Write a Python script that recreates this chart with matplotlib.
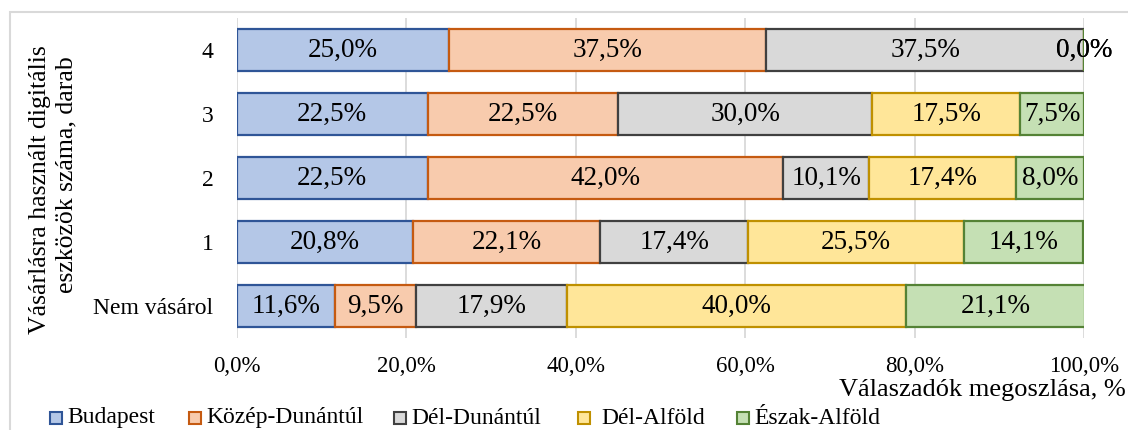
import numpy as np
import matplotlib.pyplot as plt
from matplotlib.patches import Rectangle

plt.rcParams['font.family'] = ['Liberation Serif', 'DejaVu Serif']

# rows from bottom to top
categories = ["Nem vásárol", "1", "2", "3", "4"]
regions = ["Budapest", "Közép-Dunántúl", "Dél-Dunántúl", "Dél-Alföld", "Észak-Alföld"]

budapest = [11.6, 20.8, 22.5, 22.5, 25.0]
kozep_dunantul = [9.5, 22.1, 42.0, 22.5, 37.5]
del_dunantul = [17.9, 17.4, 10.1, 30.0, 37.5]
del_alfold = [40.0, 25.5, 17.4, 17.5, 0.0]
eszak_alfold = [21.1, 14.1, 8.0, 7.5, 0.0]

x_ticks = [0, 20, 40, 60, 80, 100]

series = [budapest, kozep_dunantul, del_dunantul, del_alfold, eszak_alfold]
fills = ["#B4C7E7", "#F8CBAD", "#D9D9D9", "#FFE699", "#C5E0B4"]
edges = ["#2F5597", "#C55A11", "#404040", "#BF9000", "#548235"]

fig = plt.figure(figsize=(11.28, 4.30), dpi=100)
ax = fig.add_axes([237 / 1128, 1 - 338 / 430, (1084 - 237) / 1128, 320 / 430])

y = np.arange(len(categories))
left = np.zeros(len(categories))
for vals, fc, ec in zip(series, fills, edges):
    vals = np.array(vals)
    ax.barh(y, vals, left=left, height=0.66, color=fc, edgecolor=ec,
            linewidth=1.6, zorder=3)
    for yi, l, v in zip(y, left, vals):
        ax.text(l + v / 2, yi, f"{v:.1f}%".replace(".", ","), ha="center",
                va="center", fontsize=19.5, color="black", zorder=4)
    left += vals

ax.set_xlim(0, 100)
ax.set_ylim(-0.5, 4.5)
ax.set_xticks(x_ticks)
ax.set_xticklabels([f"{t:.1f}%".replace(".", ",") for t in x_ticks], fontsize=16.5)
ax.set_yticks(y)
ax.set_yticklabels(categories, fontsize=17)
ax.tick_params(axis="x", length=0, pad=13)
ax.tick_params(axis="y", length=0, pad=17)
ax.grid(axis="x", color="#D9D9D9", linewidth=1.3, zorder=0)
for s in ax.spines.values():
    s.set_visible(False)

fig.text(1126 / 1128, 1 - 390 / 430, "Válaszadók megoszlása, %", ha="right",
         va="center", fontsize=19)

fig.text(40 / 1128, 1 - 190 / 430, "Vásárlásra használt digitális",
         rotation=90, ha="center", va="center", fontsize=18.5)
fig.text(66 / 1128, 1 - 175 / 430, "eszközök száma, darab",
         rotation=90, ha="center", va="center", fontsize=18.5)

# legend row along the bottom
marker_x = [50, 189, 394, 578, 737]
label_x = [67, 206, 411, 601, 754]
ly = 1 - 418 / 430
for mx, tx, name, fc, ec in zip(marker_x, label_x, regions, fills, edges):
    fig.patches.append(Rectangle((mx / 1128, ly - 6 / 430), 12 / 1128, 12 / 430,
                                 transform=fig.transFigure, facecolor=fc,
                                 edgecolor=ec, linewidth=1.5))
    fig.text(tx / 1128, ly, name, ha="left", va="center", fontsize=17)

# light frame around the chart
fig.patches.append(Rectangle((10 / 1128, -0.05), 1.2, 1 - 12 / 430 + 0.05,
                             transform=fig.transFigure, fill=False,
                             edgecolor="#D9D9D9", linewidth=1.5))

fig.savefig("out.png", dpi=100)
